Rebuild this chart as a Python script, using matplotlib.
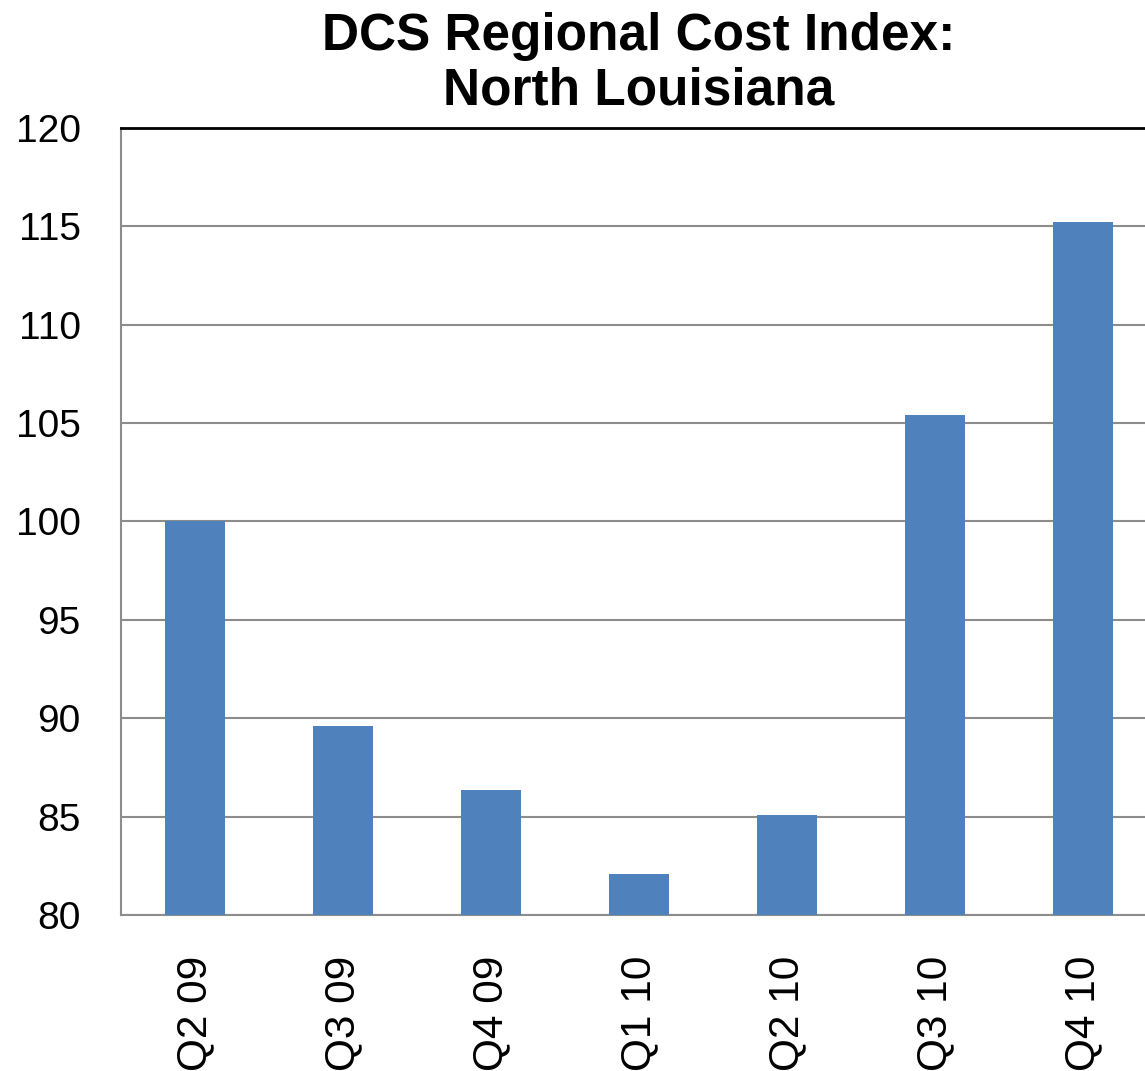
import matplotlib
matplotlib.use("Agg")
import matplotlib.pyplot as plt

categories = ["Q2 09", "Q3 09", "Q4 09", "Q1 10", "Q2 10", "Q3 10", "Q4 10"]
values = [100.0, 89.6, 86.35, 82.1, 85.1, 105.4, 115.2]
yticks = [80, 85, 90, 95, 100, 105, 110, 115, 120]
title = "DCS Regional Cost Index:\nNorth Louisiana"

plt.rcParams['font.family'] = ['Liberation Sans', 'DejaVu Sans']

W, H = 1145, 1071
fig = plt.figure(figsize=(W / 100, H / 100), dpi=100)
left, right, top, bottom = 121, 1157, 128, 915
ax = fig.add_axes([left / W, (H - bottom) / H, (right - left) / W, (bottom - top) / H])

x = list(range(len(categories)))
ax.bar(x, values, width=0.4, color="#4F81BD", zorder=3)
ax.set_xlim(-0.5, len(categories) - 0.5)
ax.set_ylim(80, 120)
ax.set_yticks(yticks)
ax.set_yticklabels([str(t) for t in yticks], fontsize=28)
ax.set_xticks(x)
ax.set_xticklabels(categories, rotation=90, fontsize=30.5, va="top")
ax.tick_params(axis="both", length=0)
ax.tick_params(axis="y", pad=29)
ax.tick_params(axis="x", pad=29)
ax.yaxis.grid(True, color="#8c8c8c", linewidth=1.5, zorder=0)
ax.set_axisbelow(True)
for s in ["left", "bottom"]:
    ax.spines[s].set_color("#8c8c8c")
    ax.spines[s].set_linewidth(1.5)
ax.spines["top"].set_color("black")
ax.spines["top"].set_linewidth(2)
ax.spines["right"].set_visible(False)

fig.text((left + right) / 2 / W, 1 - 12 / H, title, ha="center", va="top",
         fontsize=37, fontweight="bold", linespacing=1.15)

fig.savefig("out.png", dpi=100)
